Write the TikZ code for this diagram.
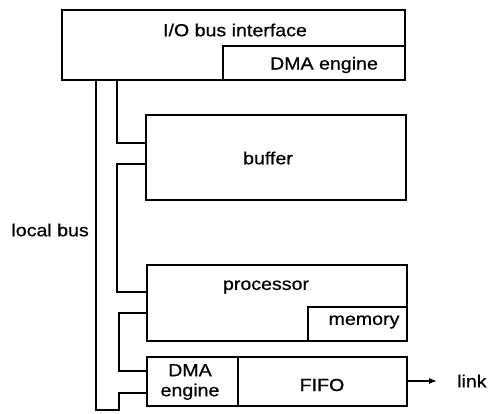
\documentclass[tikz,border=0pt]{standalone}
\usepackage{fontspec}
\setmainfont{Liberation Sans}[FakeStretch=1.12,FakeBold=0.6]
\usetikzlibrary{arrows.meta}
\begin{document}
\begin{tikzpicture}[x=1pt,y=-1pt,
  box/.style={draw,line width=1.1pt,inner sep=0pt,outer sep=0pt,anchor=north west},
  txt/.style={inner sep=0pt,font=\fontsize{17.5}{20}\selectfont},
  bus/.style={line width=1.1pt},
]
\useasboundingbox (0,0) rectangle (488,413);
% boxes
\node[box,minimum width=343pt,minimum height=70pt] (top) at (62,10) {};
\node[box,minimum width=182pt,minimum height=34pt] (dmatop) at (223,46) {};
\node[box,minimum width=260pt,minimum height=85pt] (buffer) at (146,115) {};
\node[box,minimum width=260pt,minimum height=76pt] (proc) at (147,265) {};
\node[box,minimum width=99pt,minimum height=34pt] (mem) at (308,307) {};
\node[box,minimum width=260pt,minimum height=49pt] (bot) at (147,357) {};
\node[box,minimum width=91pt,minimum height=49pt] (dma2) at (147,357) {};
% texts
\node[txt] (tIO) at (235,30) {I/O bus interface};
\node[txt] (tDMA) at (324,65) {DMA engine};
\node[txt] (tbuf) at (268,158) {buffer};
\node[txt] (tproc) at (266,287) {processor};
\node[txt] (tmem) at (364,322) {memory};
\node[txt,align=center,font=\fontsize{17.5}{20}\selectfont] (tdma2) at (190,382) {DMA\\engine};
\node[txt] (tfifo) at (322,385) {FIFO};
\node[txt,anchor=west] (tlink) at (457,381) {link};
\node[txt,anchor=east] (tlocal) at (89,230) {local bus};
% bus
\coordinate (busbot) at (96,410);
\draw[bus] (top.south -| busbot) -- (busbot) -| (119,393) -- (bot.west |- 0,393);
\draw[bus] (117,80) |- (buffer.west |- 0,143);
\draw[bus] (buffer.west |- 0,164) -| (117,292) -- (proc.west |- 0,292);
\draw[bus] (proc.west |- 0,313) -| (119,371) -- (bot.west |- 0,371);
% link arrow
\draw[bus,-{Latex[length=8pt,width=6pt]}] (bot.east |- 0,381) -- (437,381);
\end{tikzpicture}
\end{document}
